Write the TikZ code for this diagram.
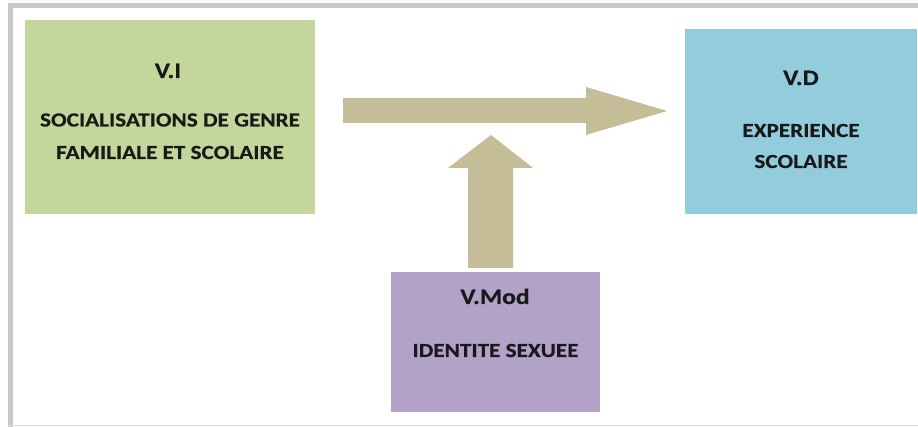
\documentclass[tikz,border=0pt]{standalone}
\usepackage{fontspec}
\setmainfont{Carlito}[FakeStretch=1.16,FakeBold=0.4]
\begin{document}
\begin{tikzpicture}[x=0.75pt,y=-0.75pt,
  varbox/.style={draw=none,rectangle,inner sep=0pt},
  label/.style={anchor=base,inner sep=0pt,text=black!90,
    font=\fontsize{15}{18}\selectfont\bfseries},
  title/.style={label,font=\fontsize{16.5}{20}\selectfont\bfseries},
  blockarrow/.style={fill=tanarrow,draw=none}]
\definecolor{greenbox}{HTML}{C3D69B}
\definecolor{bluebox}{HTML}{93CDDD}
\definecolor{purplebox}{HTML}{B3A2C7}
\definecolor{tanarrow}{HTML}{C4BD97}
\definecolor{framegray}{HTML}{C8C8C8}
\definecolor{framelight}{HTML}{DADADA}
\useasboundingbox[fill=white] (0,0) rectangle (918,427);

% outer frame
\fill[framegray] (8,3.5) rectangle (918,8.5);
\fill[framegray] (8,3.5) rectangle (12.5,427);
\fill[framelight] (8,424.8) rectangle (918,426.5);

% variable boxes
\node[varbox,fill=greenbox,minimum width=290*0.75pt,minimum height=194*0.75pt] (vi) at (170,117) {};
\node[varbox,fill=bluebox,minimum width=232*0.75pt,minimum height=185*0.75pt] (vd) at (801,121.5) {};
\node[varbox,fill=purplebox,minimum width=209*0.75pt,minimum height=140*0.75pt] (vmod) at (495.5,342) {};

% texts
\node[title] (vititle) at (168,78) {V.I};
\node[label] (vil1) at (170,126.5) {SOCIALISATIONS DE GENRE};
\node[label] (vil2) at (170,159) {FAMILIALE ET SCOLAIRE};
\node[title] (vdtitle) at (801,85) {V.D};
\node[label] (vdl1) at (801,137) {EXPERIENCE};
\node[label] (vdl2) at (801,168) {SCOLAIRE};
\node[title] (vmodtitle) at (495,304) {V.Mod};
\node[label] (vmodl1) at (495.5,357) {IDENTITE SEXUEE};

% block arrows
\fill[blockarrow] (343,98) -- (586,98) -- (586,87) -- (667,111)
  -- (586,135) -- (586,123) -- (343,123) -- cycle;
\fill[blockarrow] (468,268) -- (468,168) -- (448,168) -- (491,135)
  -- (533,168) -- (513,168) -- (513,268) -- cycle;
\end{tikzpicture}
\end{document}
